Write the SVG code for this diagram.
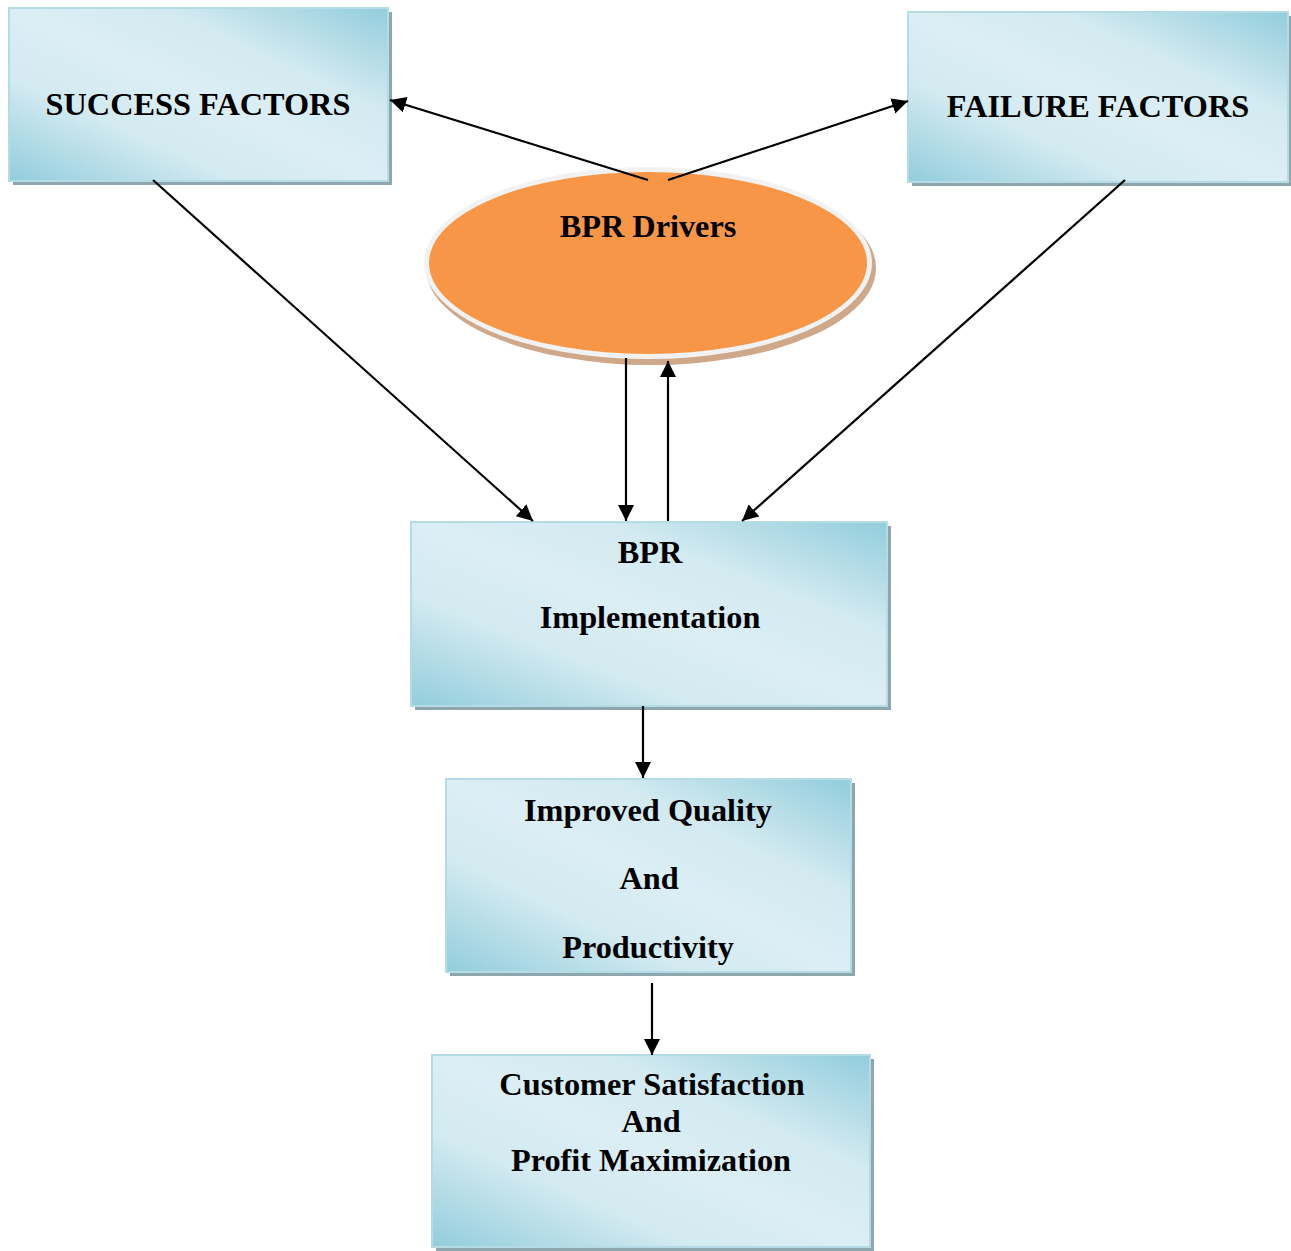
<svg xmlns="http://www.w3.org/2000/svg" width="1291" height="1251" viewBox="0 0 1291 1251">
<defs>
<linearGradient id="blue" x1="0" y1="1" x2="1" y2="0">
<stop offset="0" stop-color="#92cddc"/>
<stop offset="0.3" stop-color="#d3eaf1"/>
<stop offset="0.5" stop-color="#dbeef4"/>
<stop offset="0.7" stop-color="#d3eaf1"/>
<stop offset="1" stop-color="#92cddc"/>
</linearGradient>
<marker id="ah" viewBox="0 0 10 10" refX="10" refY="5" markerWidth="16" markerHeight="16" markerUnits="userSpaceOnUse" orient="auto">
<path d="M0,0 L10,5 L0,10 z" fill="#000"/>
</marker>
</defs>
<style>
.shadow{fill:#8ea6ae}
.box{fill:url(#blue);stroke:#b4dbe6;stroke-width:2}
.t{font-family:"Liberation Serif","Times New Roman",serif;font-weight:bold;font-size:32.3px;fill:#000;text-anchor:middle}
.c{stroke:#000;stroke-width:2.2;fill:none;marker-end:url(#ah)}
</style>
<rect width="1291" height="1251" fill="#fff"/>
<g id="success">
<rect class="shadow" x="13" y="12" width="379" height="173"/>
<rect class="box" x="9" y="8" width="379" height="173"/>
<text class="t" x="198" y="115">SUCCESS FACTORS</text>
</g>
<g id="failure">
<rect class="shadow" x="912" y="16" width="380" height="170"/>
<rect class="box" x="908" y="12" width="380" height="170"/>
<text class="t" x="1098" y="117">FAILURE FACTORS</text>
</g>
<g id="drivers">
<ellipse cx="651" cy="268" rx="225" ry="97" fill="#cfa789"/>
<ellipse cx="648" cy="263" rx="224" ry="96" fill="#f2f2f2"/>
<ellipse cx="648" cy="263" rx="219" ry="91" fill="#f79646"/>
<text class="t" x="648" y="237">BPR Drivers</text>
</g>
<g id="implementation">
<rect class="shadow" x="415" y="526" width="476" height="184"/>
<rect class="box" x="411" y="522" width="476" height="184"/>
<text class="t" x="650" y="563">BPR</text>
<text class="t" x="650" y="628">Implementation</text>
</g>
<g id="quality">
<rect class="shadow" x="450" y="783" width="405" height="193"/>
<rect class="box" x="446" y="779" width="405" height="193"/>
<text class="t" x="648" y="821">Improved Quality</text>
<text class="t" x="649" y="889">And</text>
<text class="t" x="648" y="958">Productivity</text>
</g>
<g id="customer">
<rect class="shadow" x="436" y="1059" width="438" height="192"/>
<rect class="box" x="432" y="1055" width="438" height="192"/>
<text class="t" x="652" y="1095">Customer Satisfaction</text>
<text class="t" x="651" y="1132">And</text>
<text class="t" x="651" y="1171">Profit Maximization</text>
</g>
<g id="connectors">
<line class="c" x1="648" y1="180" x2="390" y2="100"/>
<line class="c" x1="668" y1="180" x2="908" y2="101"/>
<line class="c" x1="153" y1="180" x2="533" y2="521"/>
<line class="c" x1="1125" y1="180" x2="742" y2="521"/>
<line class="c" x1="626" y1="358" x2="626" y2="521"/>
<line class="c" x1="668" y1="521" x2="668" y2="361"/>
<line class="c" x1="643" y1="706" x2="643" y2="778"/>
<line class="c" x1="652" y1="983" x2="652" y2="1055"/>
</g>
</svg>
